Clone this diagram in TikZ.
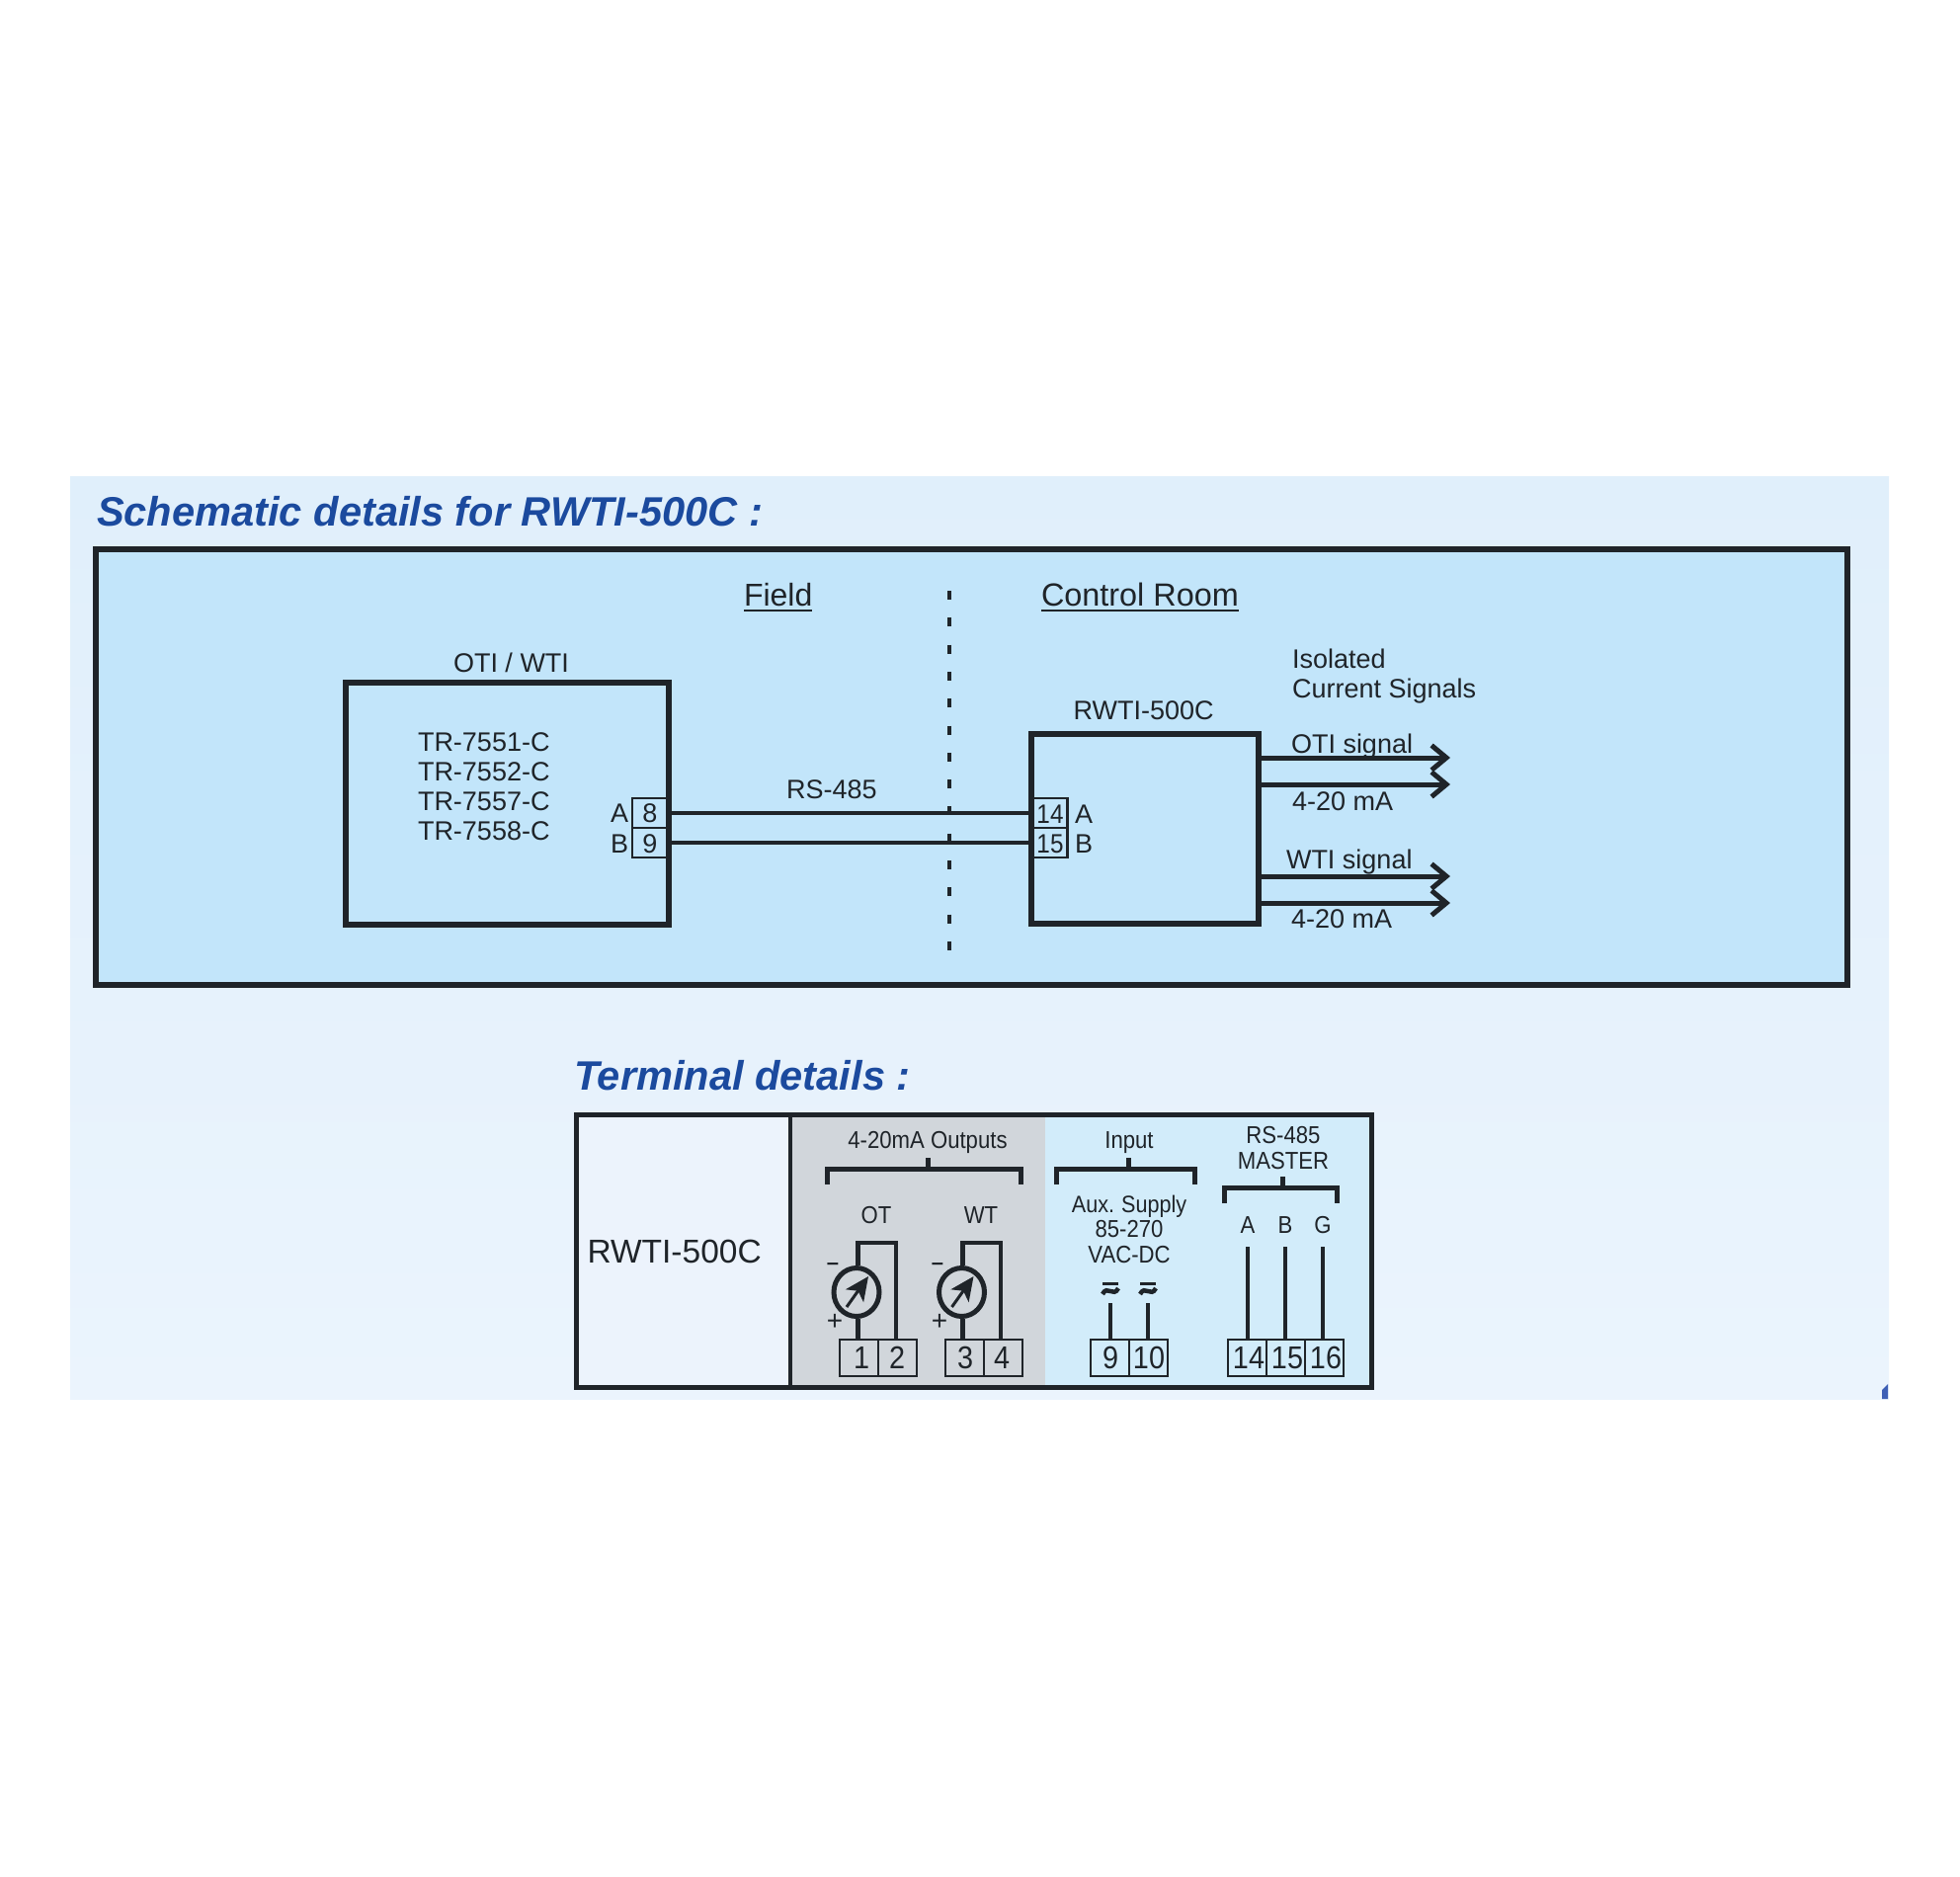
\documentclass[tikz,border=0pt]{standalone}
\usepackage{fontspec}
\setmainfont{Liberation Sans}
\newfontfamily\narrowfam[FakeStretch=0.9]{Liberation Sans}
\usetikzlibrary{arrows.meta,shapes.geometric,calc}
\definecolor{ink}{HTML}{1F2429}
\definecolor{headblue}{HTML}{1B4A9E}
\definecolor{paneltop}{HTML}{E0EFFB}
\definecolor{panelbot}{HTML}{EBF4FD}
\definecolor{skyfill}{HTML}{C2E5FA}
\definecolor{grayfill}{HTML}{D1D6DB}
\definecolor{lightsky}{HTML}{D2ECFA}
\definecolor{paleside}{HTML}{ECF3FC}
\definecolor{cornerblue}{HTML}{3D5FB5}
\newcommand{\fsz}[1]{\fontsize{#1}{#1}\selectfont}
\tikzset{
  x=1pt,y=-1pt,
  txt/.style={inner sep=0pt,outer sep=0pt,anchor=base west,text=ink,font=\fsz{27}},
  txtc/.style={txt,anchor=base},
  head/.style={inner sep=0pt,outer sep=0pt,anchor=base west,text=headblue,font=\fsz{41.6}\bfseries\itshape},
  small/.style={txtc,font=\fsz{24.6}\narrowfam},
  num/.style={txtc,font=\fsz{32}\narrowfam},
  heavybox/.style={draw=ink,line width=6pt,inner sep=0pt,outer sep=0pt},
  port/.style={draw=ink,line width=2.8pt,inner sep=0pt,outer sep=0pt,minimum height=30pt},
  termbox/.style={draw=ink,line width=2pt,inner sep=0pt,outer sep=0pt,minimum width=39pt,minimum height=37pt},
  wire/.style={draw=ink,line width=4.5pt},
  sigarrow/.style={draw=ink,line width=5pt,-{Straight Barb[length=15pt,width=25pt,line width=5pt]}},
  brace/.style={draw=ink,line width=5pt},
  meterdial/.style={draw=ink,line width=5pt,ellipse,inner sep=0pt,minimum width=46pt,minimum height=49pt}
}
\newcommand{\meter}[8]{%
  % #1 name, #2 cx, #3 wire x, #4 return x, #5 terminal a, #6 terminal b, #7 minus x, #8 plus x
  \node[meterdial] (#1) at (#2,1308) {};
  \coordinate (#1top) at (#3,1258);
  \coordinate (#1ret) at (#4,1258);
  \draw[wire,line cap=butt,line join=miter] (#1.north -| #1top) -- (#1top) -- (#1ret) -- (#1ret |- #6.north);
  \draw[wire] (#1.south -| #1top) -- (#1top |- #5.north);
  \coordinate (#1tail) at ($(#2,1308)+(-10,15)$);
  \coordinate (#1tip) at ($(#2,1308)+(12,-16)$);
  \draw[draw=ink,line width=3pt,-{Stealth[length=24pt,width=22pt,inset=6pt]}] (#1tail) -- (#1tip);
  \node[txtc,font=\fsz{22}\bfseries] (#1minus) at (#7,1285) {–};
  \node[txtc,font=\fsz{28}] (#1plus) at (#8,1346) {+};
}
\begin{document}
\begin{tikzpicture}
\useasboundingbox (0,0) rectangle (1984,1899);
\fill[white] (0,0) rectangle (1984,1899);
% page panel
\fill[top color=paneltop,bottom color=panelbot] (71,482) rectangle (1912,1416);
\fill[cornerblue] (1905,1416) -- (1905,1407) -- (1911,1401) -- (1911,1416) -- cycle;

\node[head] (title1) at (98,532) {Schematic details for RWTI-500C :};
\node[head] (title2) at (581,1103.5) {Terminal details :};

% schematic frame
\node[heavybox,fill=skyfill,minimum width=1773pt,minimum height=441pt] (frame) at (983.5,776.5) {};

% dotted divider
\coordinate (divtop) at (961,598);
\coordinate (divbot) at (961,963);
\draw[draw=ink,line width=4pt,dash pattern=on 9pt off 18.3pt] (divtop) -- (divbot);

\node[txt,font=\fsz{32}] (field) at (753,613) {Field};
\node[txt,font=\fsz{32.4}] (room) at (1054,613) {Control Room};
\draw[draw=ink,line width=2pt] ([yshift=-4.5pt]field.base west) -- ([yshift=-4.5pt]field.base east);
\draw[draw=ink,line width=2pt] ([yshift=-4.5pt]room.base west) -- ([yshift=-4.5pt]room.base east);

% field device
\node[heavybox,minimum width=327pt,minimum height=245pt] (oti) at (513.5,813) {};
\node[txt] (otilab) at (459,680) {OTI / WTI};
\node[txt] (m1) at (423,760) {TR-7551-C};
\node[txt] (m2) at (423,790) {TR-7552-C};
\node[txt] (m3) at (423,820) {TR-7557-C};
\node[txt] (m4) at (423,850) {TR-7558-C};
\node[port,minimum width=36pt] (p8) at (658,823) {};
\node[port,minimum width=36pt] (p9) at (658,853) {};
\node[txtc] (n8) at (658,832) {8};
\node[txtc] (n9) at (658,863) {9};
\node[txt] (la) at (618,832) {A};
\node[txt] (lb) at (618,863) {B};

% control room device
\node[heavybox,minimum width=230pt,minimum height=192pt] (rwti) at (1159,839) {};
\node[txt] (rwtilab) at (1086.5,728) {RWTI-500C};
\node[port,minimum width=36pt] (p14) at (1062.5,823) {};
\node[port,minimum width=36pt] (p15) at (1062.5,853) {};
\node[txtc,font=\fsz{27}\narrowfam] (n14) at (1063,833) {14};
\node[txtc,font=\fsz{27}\narrowfam] (n15) at (1063,863) {15};
\node[txt] (ra) at (1088,833) {A};
\node[txt] (rb) at (1088,863) {B};

% RS-485 link
\draw[wire] (p8.east) -- (p14.west);
\draw[wire] (p9.east) -- (p15.west);
\node[txt] (rs) at (796,808) {RS-485};

% outputs
\node[txt] (iso1) at (1308,676) {Isolated};
\node[txt] (iso2) at (1308,706) {Current Signals};
\coordinate (o1) at (1468,767);
\coordinate (o2) at (1468,794);
\coordinate (o3) at (1468,887);
\coordinate (o4) at (1468,914);
\draw[sigarrow] (rwti.east |- o1) -- (o1);
\draw[sigarrow] (rwti.east |- o2) -- (o2);
\draw[sigarrow] (rwti.east |- o3) -- (o3);
\draw[sigarrow] (rwti.east |- o4) -- (o4);
\node[txt] (s1) at (1307,762) {OTI signal};
\node[txt] (s2) at (1308,820) {4-20 mA};
\node[txt] (s3) at (1302,879) {WTI signal};
\node[txt] (s4) at (1307,939) {4-20 mA};

% terminal details
\fill[paleside] (583,1128) rectangle (800,1404);
\fill[grayfill] (800,1128) rectangle (1058,1404);
\fill[lightsky] (1058,1128) rectangle (1388,1404);
\node[draw=ink,line width=5pt,inner sep=0pt,minimum width=805pt,minimum height=276pt] (tbl) at (985.5,1266) {};
\coordinate (divT) at (800,1128);
\coordinate (divB) at (800,1404);
\draw[draw=ink,line width=4pt] (divT) -- (divB);
\node[txt,font=\fsz{33.5}] (tname) at (594.5,1278) {RWTI-500C};

% outputs section
\node[small] (outlab) at (939,1162) {4-20mA Outputs};
\coordinate (b1l) at (837,1199); \coordinate (b1r) at (1033,1199);
\coordinate (b1t) at (939,1172);
\draw[brace] (b1l) -- (837,1183) -- (1033,1183) -- (b1r);
\draw[brace] (b1t) -- (939,1183);
\node[small] (ot) at (887,1238) {OT};
\node[small] (wt) at (993,1238) {WT};
\node[termbox] (t1) at (869.5,1374.5) {};
\node[termbox] (t2) at (908.5,1374.5) {};
\node[termbox] (t3) at (976.5,1374.5) {};
\node[termbox] (t4) at (1015,1374.5) {};
\node[num] at (872,1385.5) (d1) {1};
\node[num] at (908,1385.5) (d2) {2};
\node[num] at (977,1385.5) (d3) {3};
\node[num] at (1014,1385.5) (d4) {4};
\meter{mo}{867}{868.5}{907}{t1}{t2}{843}{845}
\meter{mw}{973.5}{974.5}{1013}{t3}{t4}{949}{951}

% input section
\node[small] (inlab) at (1143,1162) {Input};
\coordinate (b2t) at (1142,1172);
\draw[brace] (1069,1199) -- (1069,1183) -- (1209,1183) -- (1209,1199);
\draw[brace] (b2t) -- (1142,1183);
\node[small,font=\fsz{24}\narrowfam] (aux1) at (1143,1227) {Aux.\hspace{-1pt} Supply};
\node[small] (aux2) at (1143,1252) {85-270};
\node[small] (aux3) at (1143,1278) {VAC-DC};
\node[termbox] (t9) at (1123.5,1374.5) {};
\node[termbox] (t10) at (1162.5,1374.5) {};
\node[num] (d9) at (1124,1385.5) {9};
\node[num] (d10) at (1163,1385.5) {10};
\coordinate (w9) at (1124,1319);
\coordinate (w10) at (1162,1319);
\draw[wire] (w9) -- (w9 |- t9.north);
\draw[wire] (w10) -- (w10 |- t10.north);
\foreach \cx in {1124,1162}{
  \draw[draw=ink,line width=3pt] (\cx-8,1299.5) -- (\cx+8,1299.5);
  \draw[draw=ink,line width=4.5pt] (\cx-8,1310) .. controls (\cx-3,1300) and (\cx+3,1314) .. (\cx+8,1304);
}

% RS-485 master section
\node[small] (rs1) at (1299,1157) {RS-485};
\node[small] (rs2) at (1299,1183) {MASTER};
\coordinate (b3t) at (1298,1191);
\draw[brace] (1239,1218) -- (1239,1202) -- (1353,1202) -- (1353,1218);
\draw[brace] (b3t) -- (1298,1202);
\node[small] (ga) at (1263,1248) {A};
\node[small] (gb) at (1301,1248) {B};
\node[small] (gg) at (1339,1248) {G};
\node[termbox] (t14) at (1262.5,1374.5) {};
\node[termbox] (t15) at (1301.5,1374.5) {};
\node[termbox] (t16) at (1340,1374.5) {};
\node[num] (d14) at (1264,1385.5) {14};
\node[num] (d15) at (1303,1385.5) {15};
\node[num] (d16) at (1342,1385.5) {16};
\coordinate (wa) at (1263,1262);
\coordinate (wb) at (1301,1262);
\coordinate (wg) at (1339,1262);
\draw[wire] (wa) -- (wa |- t14.north);
\draw[wire] (wb) -- (wb |- t15.north);
\draw[wire] (wg) -- (wg |- t16.north);
\end{tikzpicture}
\end{document}
